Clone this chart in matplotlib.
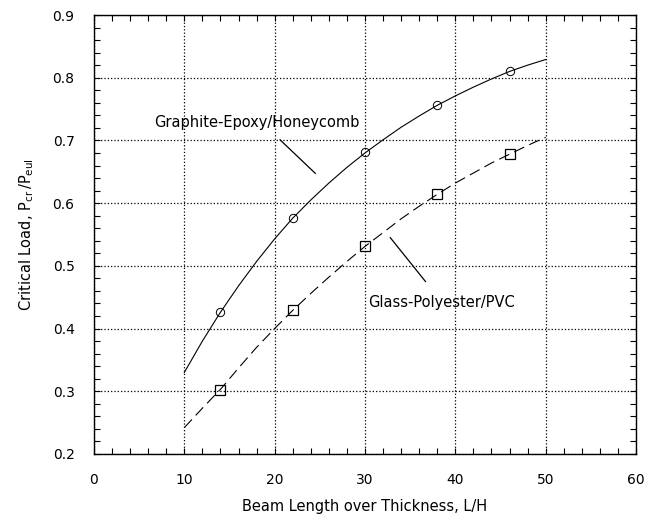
import matplotlib
matplotlib.use("Agg")
import matplotlib.pyplot as plt
from matplotlib.ticker import MultipleLocator

# Measured points (markers)
pt_x = [14, 22, 30, 38, 46]
graphite_pts = [0.426, 0.576, 0.681, 0.756, 0.810]
glass_pts = [0.302, 0.429, 0.531, 0.614, 0.678]

# Theory curves
curve_x = [10, 12, 14, 16, 18, 20, 22, 24, 26, 28, 30, 32, 34, 36, 38, 40, 42, 44, 46, 48, 50]
graphite_curve = [0.330, 0.380, 0.426, 0.468, 0.507, 0.543, 0.576, 0.605, 0.632, 0.657, 0.680,
                  0.701, 0.721, 0.739, 0.756, 0.771, 0.785, 0.798, 0.810, 0.820, 0.829]
glass_curve = [0.242, 0.273, 0.303, 0.337, 0.370, 0.400, 0.429, 0.456, 0.482, 0.507, 0.531,
               0.553, 0.575, 0.595, 0.614, 0.632, 0.648, 0.664, 0.678, 0.692, 0.705]

label_graphite = "Graphite-Epoxy/Honeycomb"
label_glass = "Glass-Polyester/PVC"
xlabel = "Beam Length over Thickness, L/H"
ylabel = r"Critical Load, $\mathregular{P_{cr}\,/P_{eul}}$"

plt.rcParams['font.family'] = ['DejaVu Sans']
fig = plt.figure(figsize=(6.45, 5.16), dpi=100)
ax = fig.add_axes([0.1457, 0.1202, 0.8403, 0.8507])

ax.plot(curve_x, graphite_curve, color='black', lw=0.8)
ax.plot(curve_x, glass_curve, color='black', lw=0.8, dashes=(10, 5))
ax.plot(pt_x, graphite_pts, linestyle='none', marker='o', ms=6, mfc='none',
        mec='black', mew=0.7)
ax.plot(pt_x, glass_pts, linestyle='none', marker='s', ms=6.5, mfc='none',
        mec='black', mew=0.9)

ax.set_xlim(0, 60)
ax.set_ylim(0.2, 0.9)
ax.xaxis.set_major_locator(MultipleLocator(10))
ax.xaxis.set_minor_locator(MultipleLocator(2))
ax.yaxis.set_major_locator(MultipleLocator(0.1))
ax.yaxis.set_minor_locator(MultipleLocator(0.02))
ax.yaxis.set_major_formatter(plt.FuncFormatter(lambda v, p: f"{v:.1f}"))

ax.grid(True, which='major', color='black', linestyle=':', lw=0.9)
ax.tick_params(which='both', direction='in', top=True, right=True, color='black',
               labelsize=10, width=0.8)
ax.tick_params(which='major', length=4, pad=14)
ax.tick_params(which='minor', length=4)
for s in ax.spines.values():
    s.set_linewidth(1.0)
    s.set_color('black')

ax.set_xlabel(xlabel, fontsize=10.5, labelpad=8)
ax.set_ylabel(ylabel, fontsize=10.5, labelpad=12)

ax.text(18.0, 0.728, label_graphite, ha='center', va='center', fontsize=10.5)
ax.text(38.5, 0.441, label_glass, ha='center', va='center', fontsize=10.5)
ax.plot([20.6, 24.5], [0.701, 0.6475], color='black', lw=0.9)
ax.plot([32.8, 36.7], [0.545, 0.475], color='black', lw=0.9)

fig.savefig("out.png", dpi=100)
